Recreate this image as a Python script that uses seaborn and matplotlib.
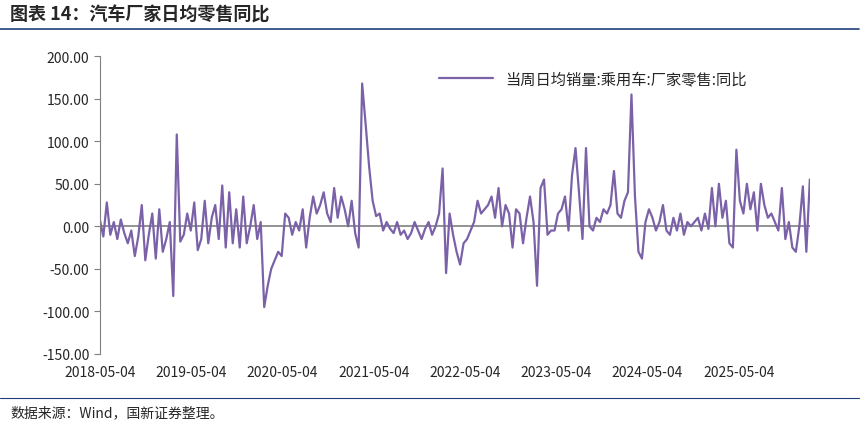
import pandas as pd
import numpy as np
import matplotlib
matplotlib.use('Agg')
import matplotlib.pyplot as plt
import matplotlib.dates as mdates
import seaborn as sns

sns.set_style('white')
plt.rcParams['font.family'] = ['Noto Sans CJK SC', 'DejaVu Sans']
plt.rcParams['axes.unicode_minus'] = False

# 厂家零售同比 (%), roughly bi-weekly readings from the picture
y1 = [8, -12, 28, -10, 5, -15, 8, -8, -20, -5, -35, -12, 25, -40, -10, 15, -38, 20, -30, -15, 5, -82, 108, -18, -10, 15]
y2 = [-5, 28, -28, -15, 30, -20, 10, 25, -15, 48, -25, 40, -20, 20, -25, 35, -20, 0, 25, -15, 5, -95, -70, -50, -40, -30]
y3 = [-35, 15, 10, -10, 5, -5, 20, -25, 10, 35, 15, 25, 40, 15, 5, 45, 10, 35, 20, 0, 30, -8, -25, 168, 120, 70]
y4 = [30, 12, 15, -5, 5, -3, -8, 5, -10, -5, -15, -8, 5, -5, -15, -3, 5, -10, 0, 15, 68, -55, 15, -10, -30, -45]
y5 = [-20, -15, -5, 5, 30, 15, 20, 25, 35, 10, 45, 0, 25, 15, -25, 20, 15, -20, 10, 35, 5, -70, 45, 55, -10, -5]
y6 = [-5, 15, 20, 35, -5, 60, 92, 40, -15, 92, 0, -5, 10, 5, 20, 15, 25, 65, 15, 10, 30, 40, 155, 35, -30, -38]
y7 = [5, 20, 10, -5, 5, 25, -5, -10, 10, -5, 15, -10, 5, 0, 5, 10, -5, 15, -3, 45, 0, 50, 10, 30, -20, -25]
y8 = [90, 30, 15, 50, 20, 40, -5, 50, 25, 10, 15, 5, -5, 45, -15, 5, -25, -30, 0, 47, -30, 55]
values = y1 + y2 + y3 + y4 + y5 + y6 + y7 + y8
dates = pd.date_range('2018-05-04', periods=len(values), freq='14D')
tick_dates = pd.to_datetime(['2018-05-04', '2019-05-04', '2020-05-04', '2021-05-04',
                             '2022-05-04', '2023-05-04', '2024-05-04', '2025-05-04'])
label = '当周日均销量:乘用车:厂家零售:同比'

df = pd.DataFrame({'date': dates, 'yoy': values})

fig = plt.figure(figsize=(8.68, 4.27), dpi=100)
ax = fig.add_axes([0.115, 0.169, 0.818, 0.697])
sns.lineplot(data=df, x='date', y='yoy', ax=ax, color='#7b62a8', lw=1.6, label=label)
ax.axhline(0, color='#808080', lw=1.2, zorder=0)

ax.set_ylim(-150, 200)
ax.set_yticks(np.arange(-150, 201, 50))
ax.set_yticklabels([f'{v:.2f}' for v in np.arange(-150, 201, 50)], fontsize=10)
ax.set_xlim(pd.Timestamp('2018-05-04'), dates[-1])
ax.set_xticks(tick_dates)
ax.set_xticklabels([d.strftime('%Y-%m-%d') for d in tick_dates], fontsize=10)
ax.set_xlabel('')
ax.set_ylabel('')
for s in ['top', 'right', 'bottom']:
    ax.spines[s].set_visible(False)
ax.spines['left'].set_color('#808080')
ax.tick_params(axis='y', length=4, color='#808080', left=True)
ax.tick_params(axis='x', length=0, pad=8)
ax.legend(loc='upper right', bbox_to_anchor=(0.93, 1.0), frameon=False, fontsize=11,
          handlelength=3.5)

fig.text(0.012, 0.965, '图表 14：汽车厂家日均零售同比', fontsize=13, fontweight='bold',
         fontstyle='italic', va='center')
fig.add_artist(plt.Line2D([0.0, 0.99], [0.93, 0.93], color='#1f3f7a', lw=1.2))
fig.add_artist(plt.Line2D([0.0, 0.99], [0.065, 0.065], color='#1f3f7a', lw=0.8))
fig.text(0.012, 0.032, '数据来源：Wind，国新证券整理。', fontsize=10, va='center')

fig.savefig('out.png', dpi=100)
